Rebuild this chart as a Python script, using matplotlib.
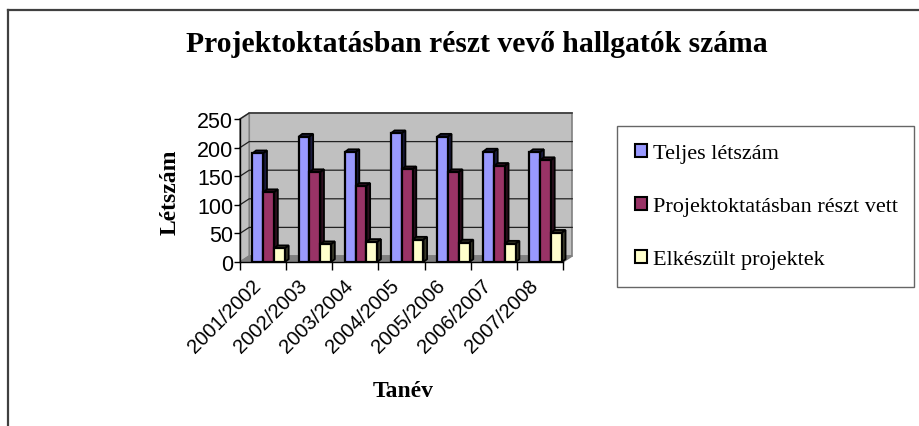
import matplotlib.pyplot as plt
from matplotlib.patches import Polygon, Patch
from matplotlib.lines import Line2D
from matplotlib.transforms import ScaledTranslation
import numpy as np

years = ['2001/2002', '2002/2003', '2003/2004', '2004/2005',
         '2005/2006', '2006/2007', '2007/2008']
teljes = [190, 219, 192, 225, 219, 193, 192]
projekt = [122, 157, 133, 162, 157, 168, 178]
elkeszult = [24, 31, 35, 39, 34, 32, 51]

series = [teljes, projekt, elkeszult]
labels = ['Teljes létszám', 'Projektoktatásban részt vett', 'Elkészült projektek']
front = ['#9999FF', '#993366', '#FFFFCC']
side = ['#1c1c40', '#2e0f1f', '#3a3a2a']

W, H = 920, 427
fig = plt.figure(figsize=(W / 100, H / 100), dpi=100)
ax = fig.add_axes([240 / W, 1 - 263 / H, 323 / W, 143 / H])
n = len(years)
ax.set_xlim(0, n)
ax.set_ylim(0, 250)

# walls of the 3D box (depth offset in data units)
dx, dy = 0.2, 10.5
wall = '#c0c0c0'
ax.add_patch(Polygon([(dx, dy), (n + dx, dy), (n + dx, 250 + dy), (dx, 250 + dy)],
                     closed=True, fc=wall, ec='#808080', lw=1.2, clip_on=False, zorder=0))
ax.add_patch(Polygon([(0, 0), (dx, dy), (dx, 250 + dy), (0, 250)],
                     closed=True, fc=wall, ec='#808080', lw=1.2, clip_on=False, zorder=0))
ax.add_patch(Polygon([(0, 0), (n, 0), (n + dx, dy), (dx, dy)],
                     closed=True, fc='#808080', ec='#808080', lw=1, clip_on=False, zorder=0.5))
for v in range(50, 251, 50):
    ax.plot([0, dx, n + dx], [v, v + dy, v + dy], color='#222222', lw=0.9,
            clip_on=False, zorder=0.6)

# 3D bars
bw = 0.235
bdx, bdy = 0.08, 5.0
x0 = np.arange(n) + 0.27
for i, vals in enumerate(series):
    xs = x0 + i * bw
    z = 2 + i
    for x, v in zip(xs, vals):
        ax.add_patch(Polygon([(x, v), (x + bdx, v + bdy), (x + bw + bdx, v + bdy), (x + bw, v)],
                             closed=True, fc=side[i], ec='black', lw=1.3, clip_on=False, zorder=z))
        ax.add_patch(Polygon([(x + bw, 0), (x + bw + bdx, bdy), (x + bw + bdx, v + bdy), (x + bw, v)],
                             closed=True, fc=side[i], ec='black', lw=1.3, clip_on=False, zorder=z))
    ax.bar(xs, vals, width=bw, align='edge', color=front[i], edgecolor='black',
           linewidth=1.6, zorder=z + 0.5)

for s in ['top', 'right']:
    ax.spines[s].set_visible(False)
for s in ['left', 'bottom']:
    ax.spines[s].set_linewidth(1)
    ax.spines[s].set_zorder(10)
ax.set_facecolor('none')

ax.set_yticks(range(0, 251, 50))
ax.set_yticklabels([str(v) for v in range(0, 251, 50)], fontsize=15.5,
                   fontfamily='Liberation Sans')
ax.tick_params(axis='y', direction='out', length=4, width=1, pad=1)
ax.set_xticks(np.arange(n) + 0.5)
ax.set_xticklabels(years, rotation=45, ha='right', rotation_mode='anchor',
                   fontsize=14.5, fontfamily='Liberation Sans')
ax.tick_params(axis='x', which='major', length=0, pad=6)
ax.set_xticks(np.arange(n + 1), minor=True)
ax.tick_params(axis='x', which='minor', direction='out', length=6, width=1)
shift = ScaledTranslation(-12 / 100, -5 / 100, fig.dpi_scale_trans)
for lab in ax.get_xticklabels():
    lab.set_transform(lab.get_transform() + shift)

fig.text(477 / W, 1 - 45 / H, 'Projektoktatásban részt vevő hallgatók száma',
         ha='center', va='center', fontsize=21.3, fontweight='bold', fontfamily='Liberation Serif')
fig.text(170 / W, 1 - 192 / H, 'Létszám', rotation=90, ha='center', va='center',
         fontsize=17, fontweight='bold', fontfamily='Liberation Serif')
fig.text(403 / W, 1 - 392 / H, 'Tanév', ha='center', va='center',
         fontsize=17, fontweight='bold', fontfamily='Liberation Serif')

handles = [Patch(facecolor=c, edgecolor='black', linewidth=1.5) for c in front]
leg = fig.legend(handles, labels, loc='upper left',
                 bbox_to_anchor=(617 / W, 1 - 127 / H, 297 / W, 0), mode='expand',
                 borderaxespad=0, frameon=True, fancybox=False,
                 prop={'family': 'Liberation Serif', 'size': 16},
                 handlelength=0.55, handleheight=0.55, handletextpad=0.25,
                 labelspacing=1.5, borderpad=0.8)
leg.get_frame().set_edgecolor('#404040')
leg.get_frame().set_linewidth(1)

# outer chart frame (only top and left visible)
fig.add_artist(Line2D([8 / W, 1], [1 - 11 / H, 1 - 11 / H], color='#404040', lw=1.6))
fig.add_artist(Line2D([8 / W, 8 / W], [0, 1 - 11 / H], color='#404040', lw=1.6))

fig.savefig('out.png', dpi=100)
